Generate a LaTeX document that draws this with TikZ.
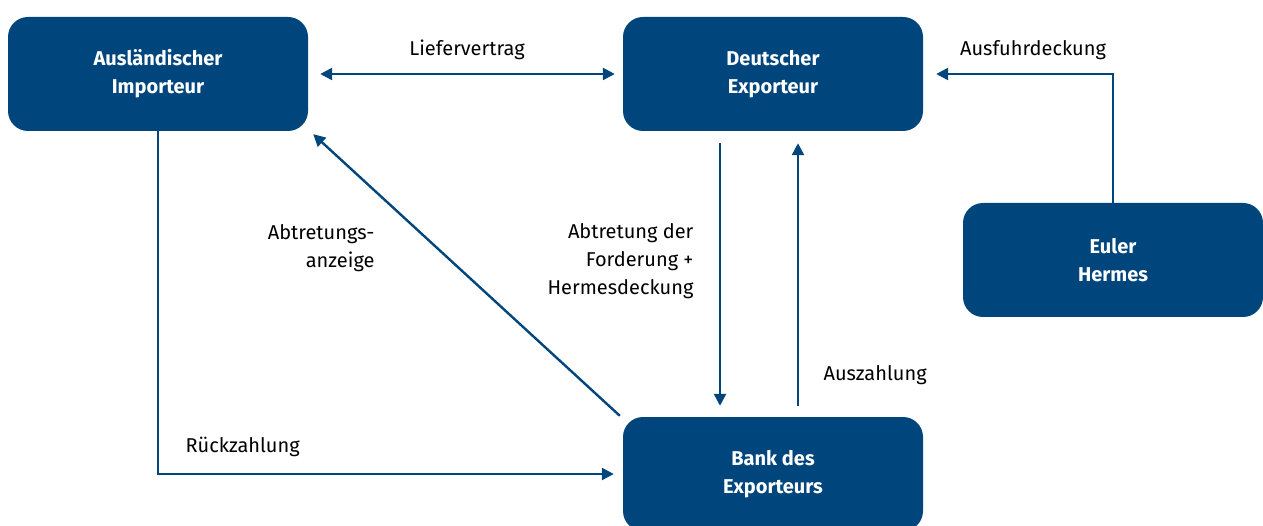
\documentclass[tikz,border=0pt]{standalone}
\usepackage{fontspec}
\setmainfont{Fira Sans}
\usetikzlibrary{arrows.meta}

\definecolor{bundblau}{HTML}{00457C}

\begin{document}
\begin{tikzpicture}[x=1pt,y=1pt,
  box/.style={rectangle, rounded corners=20pt, fill=bundblau, text=white,
    minimum width=300pt, minimum height=114pt, align=center,
    font=\fontsize{20}{28}\selectfont\bfseries},
  lbl/.style={font=\fontsize{20}{28}\selectfont, text=black},
  pfeil/.style={draw=bundblau, line width=2.4pt,
    -{Triangle[length=12pt,width=12pt]}}]

\useasboundingbox (0,0) rectangle (1263,525);

\node[box] (imp) at (158,451) {Ausländischer\\Importeur};
\node[box] (exp) at (773,451) {Deutscher\\Exporteur};
\node[box] (eh) at (1113,265) {Euler\\Hermes};
\node[box] (bank) at (773,51) {Bank des\\Exporteurs};

\draw[pfeil, {Triangle[length=12pt,width=12pt]}-{Triangle[length=12pt,width=12pt]}]
  ([xshift=12pt]imp.east) -- ([xshift=-8pt]exp.west);
\draw[pfeil] (eh.north) |- ([xshift=13pt]exp.east);
\draw[pfeil] ([xshift=-53pt,yshift=-12pt]exp.south) -- ([xshift=-53pt,yshift=11pt]bank.north);
\draw[pfeil] ([xshift=25pt,yshift=11pt]bank.north) -- ([xshift=25pt,yshift=-12pt]exp.south);
\draw[pfeil] ([shift={(-3pt,1pt)}]bank.north west) -- ([shift={(5pt,-3pt)}]imp.south east);
\draw[pfeil] (imp.south) |- ([xshift=-9pt]bank.west);

\node[lbl] (liefer) at (467,475) {Liefervertrag};
\node[lbl] (ausfuhr) at (1033,475) {Ausfuhrdeckung};
\node[lbl, anchor=east, align=right] (anzeige) at (378,277) {Abtretungs-\\anzeige};
\node[lbl, anchor=east, align=right] (forderung) at (697,264) {Abtretung der\\Forderung +\\Hermesdeckung};
\node[lbl, anchor=west] (auszahlung) at (820,150) {Auszahlung};
\node[lbl, anchor=west] (rueck) at (182,78) {Rückzahlung};

\end{tikzpicture}
\end{document}
